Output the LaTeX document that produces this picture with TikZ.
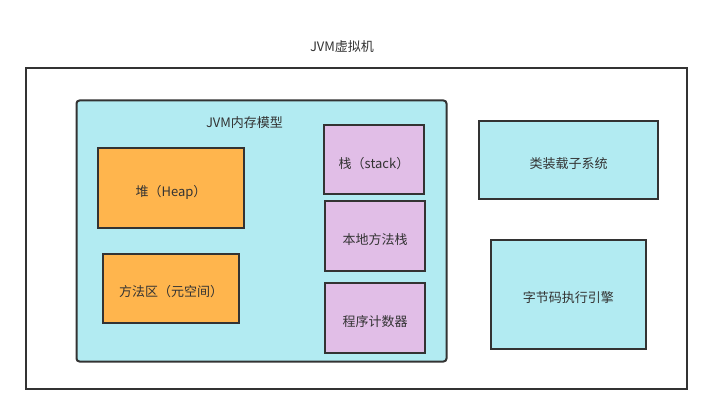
\documentclass[tikz,border=0pt]{standalone}
\usepackage{fontspec}
\setmainfont{Noto Sans CJK SC}
\definecolor{ln}{HTML}{333333}
\definecolor{cyanfill}{HTML}{B2EBF2}
\definecolor{orangefill}{HTML}{FFB54D}
\definecolor{purplefill}{HTML}{E1BEE7}
\begin{document}
\begin{tikzpicture}[x=1pt,y=-1pt,
  every node/.style={font=\fontsize{13}{15}\selectfont, text=ln, inner sep=0pt},
  box/.style={draw=ln, line width=2pt, rectangle},
  cyanbox/.style={box, fill=cyanfill},
  orangebox/.style={box, fill=orangefill},
  purplebox/.style={box, fill=purplefill},
  boxtext/.style={yshift=-3.5pt},
  lbl/.style={}]
\useasboundingbox (0,0) rectangle (712,414);
\fill[white] (0,0) rectangle (712,414);
% outer JVM box
\node[box, minimum width=661pt, minimum height=320pt] (jvm) at (356,228.5) {};
\node[lbl] (jvmlabel) at (342,46.5) {JVM虚拟机};
% memory model
\node[cyanbox, rounded corners=3pt, minimum width=370pt, minimum height=261pt] (mem) at (261.5,231) {};
\node[lbl] (memlabel) at (244.5,123) {JVM内存模型};
% heap & method area
\node[orangebox, minimum width=146pt, minimum height=80pt] (heap) at (171,188.5) {};
\node[boxtext] (heaptext) at (heap.center) {堆（Heap）};
\node[orangebox, minimum width=136pt, minimum height=69pt] (method) at (171,288.5) {};
\node[boxtext] (methodtext) at (method.center) {方法区（元空间）};
% stacks
\node[purplebox, minimum width=100pt, minimum height=69pt] (stack) at (374,160) {};
\node[boxtext] (stacktext) at (stack.center) {栈（stack）};
\node[purplebox, minimum width=100pt, minimum height=69pt] (native) at (375,236) {};
\node[boxtext] (nativetext) at (native.center) {本地方法栈};
\node[purplebox, minimum width=100pt, minimum height=70pt] (pc) at (375,318) {};
\node[boxtext] (pctext) at (pc.center) {程序计数器};
% right side
\node[cyanbox, minimum width=179pt, minimum height=78pt] (loader) at (568.5,160) {};
\node[boxtext] (loadertext) at (loader.center) {类装载子系统};
\node[cyanbox, minimum width=155pt, minimum height=109pt] (engine) at (568.3,294.3) {};
\node[boxtext] (enginetext) at (engine.center) {字节码执行引擎};
\end{tikzpicture}
\end{document}
